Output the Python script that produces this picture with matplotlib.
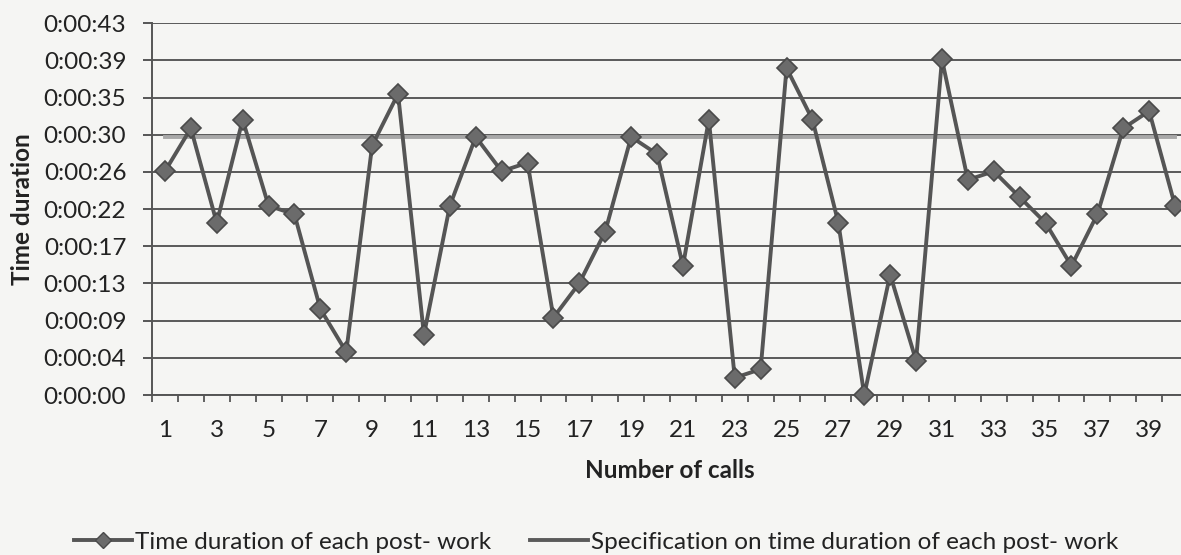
import numpy as np
import matplotlib.pyplot as plt
from matplotlib.lines import Line2D
from matplotlib.ticker import FixedLocator, FuncFormatter

# Data: post-work duration of each call (seconds)
calls = list(range(1, 41))
durations = [26, 31, 20, 32, 22, 21, 10, 5, 29, 35,
             7, 22, 30, 26, 27, 9, 13, 19, 30, 28,
             15, 32, 2, 3, 38, 32, 20, 0, 14, 4,
             39, 25, 26, 23, 20, 15, 21, 31, 33, 22]
spec_value = 30  # seconds
y_ticks = [i * 4.32 for i in range(11)]  # Excel major unit 0.00005 day

bg = '#f5f5f3'
dark = '#555555'
txt = '#222222'
fs = 17.5

plt.rcParams['font.family'] = ['Lato', 'DejaVu Sans']

fig = plt.figure(figsize=(11.81, 5.55), dpi=100, facecolor=bg)
ax = fig.add_axes([152 / 1181, 1 - 395 / 555, 1036 / 1181, (395 - 23.3) / 555])
ax.set_facecolor(bg)

def fmt_time(v, pos=None):
    s = int(round(v))
    return f"{s // 3600}:{(s // 60) % 60:02d}:{s % 60:02d}"

ax.set_ylim(0, 43.2)
ax.set_xlim(0.5, 40.5)
ax.yaxis.set_major_locator(FixedLocator(y_ticks))
ax.yaxis.set_major_formatter(FuncFormatter(fmt_time))
ax.grid(axis='y', color='#595959', lw=1.4, zorder=0)

# category ticks between points, labels at odd numbers
ax.xaxis.set_major_locator(FixedLocator(np.arange(0.5, 41, 1)))
ax.xaxis.set_major_formatter(FuncFormatter(lambda v, p: ''))
ax.xaxis.set_minor_locator(FixedLocator(calls[::2]))
ax.xaxis.set_minor_formatter(FuncFormatter(lambda v, p: f"{int(round(v))}"))
ax.tick_params(axis='x', which='major', length=5, width=1.3, color=dark, direction='out')
ax.tick_params(axis='x', which='minor', length=0, pad=18, labelsize=fs, labelcolor=txt)
ax.tick_params(axis='y', length=6.5, width=1.4, color=dark, labelsize=fs,
               labelcolor=txt, pad=12)

for side in ['top', 'right']:
    ax.spines[side].set_visible(False)
ax.spines['left'].set_color(dark)
ax.spines['bottom'].set_color(dark)
ax.spines['left'].set_linewidth(1.4)
ax.spines['bottom'].set_linewidth(1.4)

ax.plot([1, 40], [spec_value, spec_value], color='#a8a8a8', lw=2.8, zorder=2)
ax.plot(calls, durations, color=dark, lw=2.8, marker='D', markersize=10.5,
        markerfacecolor='#6b6b6b', markeredgecolor='#4a4a4a', markeredgewidth=1.2,
        zorder=3, clip_on=False)

ax.set_ylabel('Time duration', fontsize=fs, fontweight='bold', color=txt)
ax.yaxis.set_label_coords(-0.114, 0.5)
fig.text(670 / 1181, 1 - 470 / 555, 'Number of calls', fontsize=fs, fontweight='bold',
         color=txt, ha='center', va='center')

handles = [
    Line2D([], [], color=dark, lw=2.8, marker='D', markersize=8,
           markerfacecolor='#6b6b6b', markeredgecolor='#4a4a4a'),
    Line2D([], [], color='#5a5a5a', lw=2.8),
]
labels = ['Time duration of each post- work',
          'Specification on time duration of each post- work']
fig.legend(handles, labels, loc='center', ncol=2,
           bbox_to_anchor=(596 / 1181, 1 - 542 / 555), frameon=False,
           fontsize=fs, handlelength=2.4, handletextpad=0.1, columnspacing=1.6,
           labelcolor=txt)

fig.savefig('out.png', dpi=100, facecolor=bg)
